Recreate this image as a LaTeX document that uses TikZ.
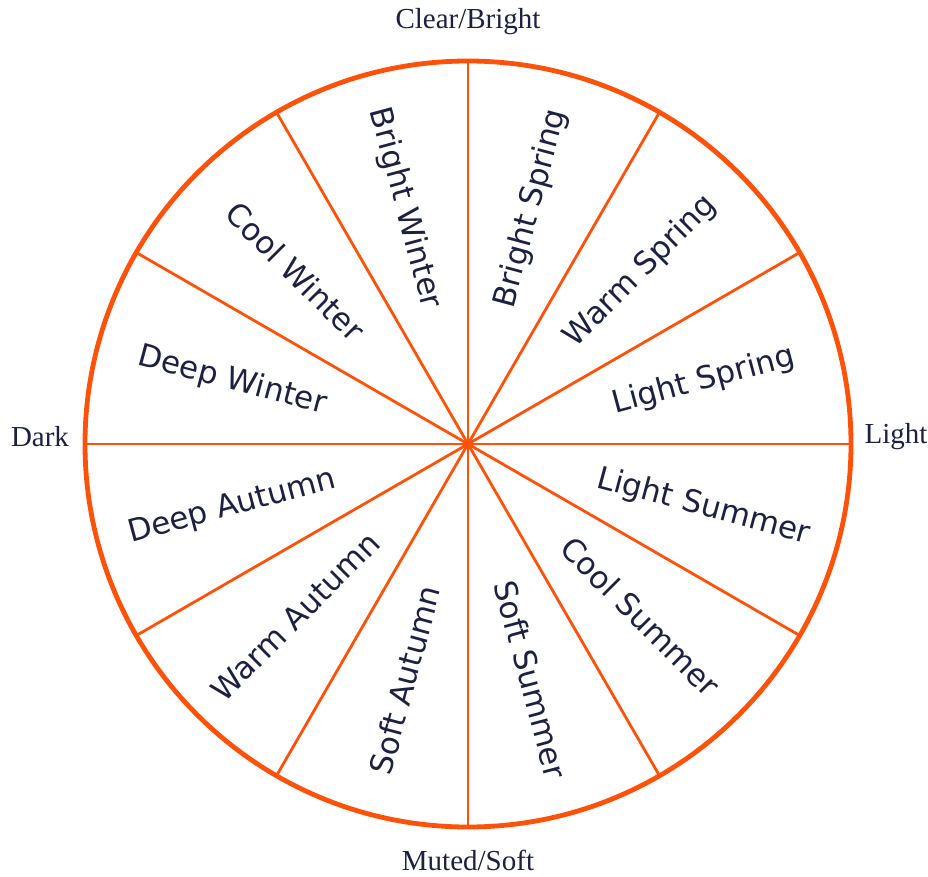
\documentclass[tikz,border=0pt]{standalone}
\usepackage{fontspec}
\setmainfont{Liberation Serif}
\newfontfamily\seasonfont{DejaVu Sans}
\definecolor{wheelOrange}{HTML}{FF5208}
\definecolor{wheelInk}{HTML}{1C2142}

\begin{document}
\begin{tikzpicture}[x=1pt, y=1pt]
            \useasboundingbox (-468,-432) rectangle (460,444);
            % spokes and rim
            \foreach \a in {0,30,...,150}
                \draw[wheelOrange, line width=2.8pt] (\a:383) -- (\a+180:383);
            \draw[wheelOrange, line width=4.8pt] (0,0) circle (383);
            % season names
            \foreach \a/\r/\txt in {15/15/Light Spring, 45/45/Warm Spring, 75/75/Bright Spring,
                105/-75/Bright Winter, 135/-45/Cool Winter, 165/-15/Deep Winter,
                195/15/Deep Autumn, 225/45/Warm Autumn, 255/75/Soft Autumn,
                285/-75/Soft Summer, 315/-45/Cool Summer, 345/-15/Light Summer}
                \node[rotate=\r, text=wheelInk, inner sep=0pt, font=\seasonfont\fontsize{31}{36}\selectfont] (season-\a) at (\a:244) {\txt};
            % axis names
            \node[text=wheelInk, font=\fontsize{29}{34}\selectfont] (clear) at (0,422) {Clear/Bright};
            \node[text=wheelInk, font=\fontsize{29}{34}\selectfont] (muted) at (0,-416) {Muted/Soft};
            \node[text=wheelInk, font=\fontsize{29}{34}\selectfont] (dark) at (-428,7) {Dark};
            \node[text=wheelInk, font=\fontsize{29}{34}\selectfont] (light) at (428,7) {Light};
        \end{tikzpicture}
\end{document}
